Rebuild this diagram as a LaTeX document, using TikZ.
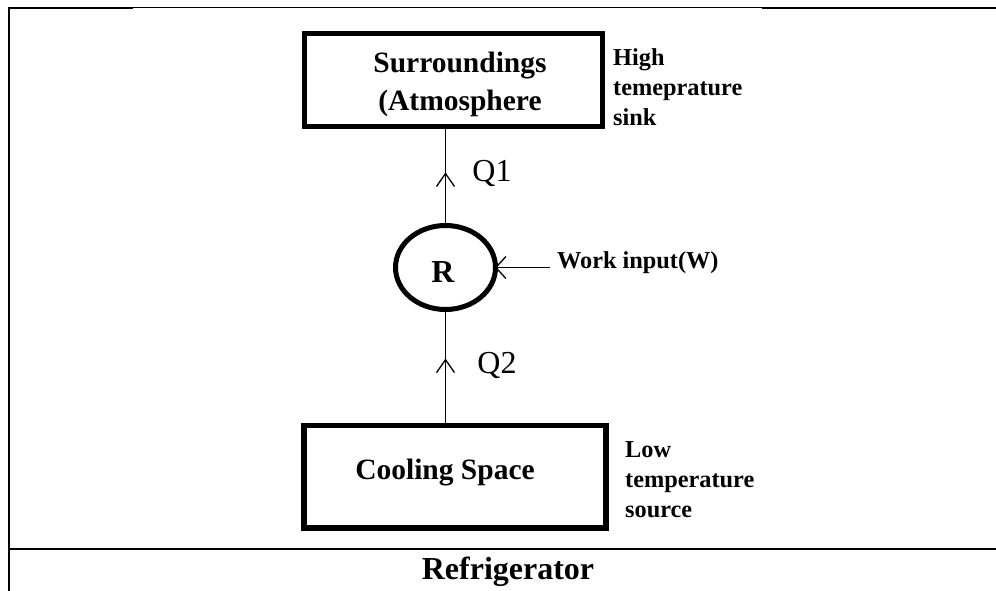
\documentclass[tikz,border=0pt]{standalone}
\usepackage{fontspec}
\setmainfont{Liberation Serif}
\usetikzlibrary{shapes.geometric,arrows.meta,decorations.markings}
\begin{document}
\begin{tikzpicture}[x=1pt,y=-1pt,
  boxnode/.style={draw,line width=5.5pt,inner sep=0pt},
  conn/.style={line width=1.3pt},
  frameline/.style={line width=2pt},
  sidelbl/.style={font=\bfseries\fontsize{24.3}{30}\selectfont,align=left,anchor=west,inner sep=0pt},
  boxtxt/.style={font=\bfseries\fontsize{29.5}{38}\selectfont,align=center,inner sep=0pt},
  qlbl/.style={font=\fontsize{32}{36}\selectfont,inner sep=0pt},
  midarrow/.style={postaction={decorate},decoration={markings,
    mark=at position #1 with {\arrow{Straight Barb[length=13pt,width=18pt]}}}}
]
\useasboundingbox (0,0) rectangle (996,591);
% frame
\draw[frameline] (9,591) -- (9,7.7) -- (133,7.7);
\draw[line width=1pt] (133,7.2) -- (762,7.2);
\draw[frameline] (762,7.7) -- (996,7.7);
\draw[frameline] (9,549) -- (996,549);
% boxes
\node[boxnode,minimum width=298pt,minimum height=93pt] (sur) at (453.5,80) {};
\node[boxtxt] (surtxt) at (460,84) {Surroundings\\(Atmosphere};
\node[boxnode,minimum width=302pt,minimum height=102.5pt] (cool) at (455,476.75) {};
\node[boxtxt] (cooltxt) at (445,473) {Cooling Space};
% refrigerator circle
\node[draw,ellipse,line width=5pt,minimum width=100pt,minimum height=84pt,inner sep=0pt] (r) at (445.5,267.5) {};
\node[font=\bfseries\fontsize{32}{36}\selectfont,inner sep=0pt] (rtxt) at (443,272) {R};
% connectors
\draw[conn,midarrow=0.54] (r.north) -- (r.north |- sur.south);
\draw[conn,midarrow=0.58] (r.south |- cool.north) -- (r.south);
\coordinate (win) at (550,267.5);
\draw[conn,-{Straight Barb[length=10pt,width=22pt]},shorten >=-3pt] (win) -- (r.east);
% labels
\node[qlbl] (q1) at (492,173) {Q1};
\node[qlbl] (q2) at (497,365) {Q2};
\node[sidelbl] (wlbl) at (557,263) {Work input(W)};
\node[sidelbl] (hlbl) at (613,87) {High\\temeprature\\sink};
\node[sidelbl] (llbl) at (625,480) {Low\\temperature\\source};
\node[font=\bfseries\fontsize{32}{36}\selectfont,inner sep=0pt] (title) at (508,572) {Refrigerator};
\end{tikzpicture}
\end{document}
